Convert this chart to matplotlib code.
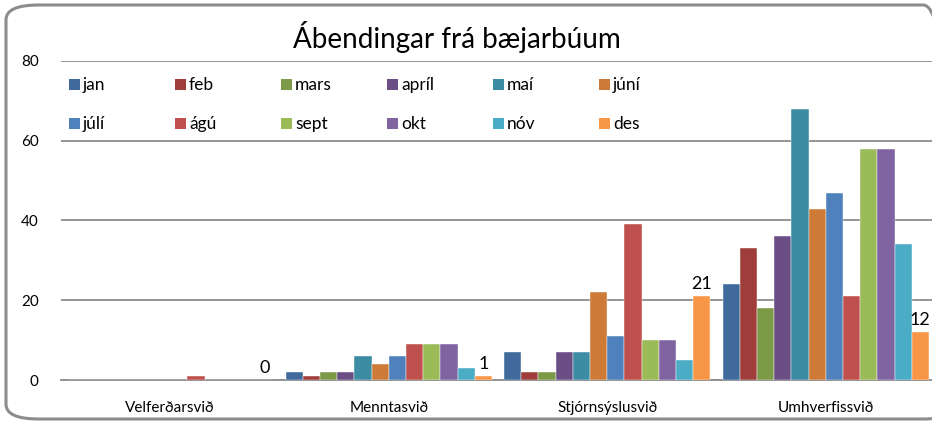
import numpy as np
import matplotlib.pyplot as plt
from matplotlib.patches import FancyBboxPatch, Rectangle

# Gögn
flokkar = ['Velferðarsvið', 'Menntasvið', 'Stjórnsýslusvið', 'Umhverfissvið']
manudir = ['jan', 'feb', 'mars', 'apríl', 'maí', 'júní',
           'júlí', 'ágú', 'sept', 'okt', 'nóv', 'des']
jan = [0, 2, 7, 24]
feb = [0, 1, 2, 33]
mars = [0, 2, 2, 18]
april = [0, 2, 7, 36]
mai = [0, 6, 7, 68]
juni = [0, 4, 22, 43]
juli = [0, 6, 11, 47]
agu = [1, 9, 39, 21]
sept = [0, 9, 10, 58]
okt = [0, 9, 10, 58]
nov = [0, 3, 5, 34]
des = [0, 1, 21, 12]
gildi = [jan, feb, mars, april, mai, juni, juli, agu, sept, okt, nov, des]
litir = ['#3F6A9B', '#9F3D3A', '#7D9A48', '#6A4E85', '#3C8DA3', '#CD7B37',
         '#4F81BD', '#C0504D', '#9BBB59', '#8064A2', '#4BACC6', '#F79646']

plt.rcParams['font.family'] = ['Lato', 'DejaVu Sans']
FS = 11

fig = plt.figure(figsize=(9.32, 4.23), dpi=100)
W, H = 932, 423

# rammi utan um myndina
fig.patches.append(FancyBboxPatch((6 / W, 4 / H), 950 / W, 414 / H,
                                  boxstyle='round,pad=0,rounding_size=0.035',
                                  transform=fig.transFigure, fill=False,
                                  edgecolor='#8C8C8C', linewidth=2.2))

ax = fig.add_axes([61 / W, 1 - 380 / H, 874 / W, 319 / H])
x = np.arange(len(flokkar))
bw = 0.0787
for i, (nafn, g) in enumerate(zip(manudir, gildi)):
    pos = x - 6 * bw + (i + 0.5) * bw
    bars = ax.bar(pos, g, width=bw, color=litir[i], label=nafn,
                  edgecolor='white', linewidth=0.3, zorder=3)
    if nafn == 'des':
        for b, v in zip(bars, g):
            ax.text(b.get_x() + b.get_width() / 2, v + 1, str(v),
                    ha='center', va='bottom', fontsize=13, zorder=4)

ax.set_xlim(-0.5, 3.5)
ax.set_ylim(0, 80)
ax.set_yticks([0, 20, 40, 60, 80])
ax.set_xticks(x)
ax.set_xticklabels(flokkar, fontsize=FS)
ax.tick_params(axis='both', length=0, labelsize=FS)
ax.tick_params(axis='y', pad=16)
ax.tick_params(axis='x', pad=15)
ax.yaxis.grid(True, color='#8C8C8C', linewidth=1.3, zorder=0)
for s in ['top', 'right', 'left']:
    ax.spines[s].set_visible(False)
ax.spines['bottom'].set_color('#8C8C8C')
ax.spines['bottom'].set_linewidth(1.3)
ax.set_facecolor('none')

# skýringar, 2 raðir x 6 dálkar
for i, (nafn, c) in enumerate(zip(manudir, litir)):
    r, k = divmod(i, 6)
    x0 = 69 + 106 * k
    yc = 85 + 39 * r
    fig.patches.append(Rectangle((x0 / W, 1 - (yc + 5.5) / H), 11 / W, 11 / H,
                                 transform=fig.transFigure, facecolor=c,
                                 edgecolor='none'))
    fig.text((x0 + 14) / W, 1 - yc / H, nafn, ha='left', va='center',
             fontsize=12.5)

fig.text(457 / W, 1 - 37 / H, 'Ábendingar frá bæjarbúum', ha='center',
         va='center', fontsize=20)

fig.savefig('out.png', dpi=100)
